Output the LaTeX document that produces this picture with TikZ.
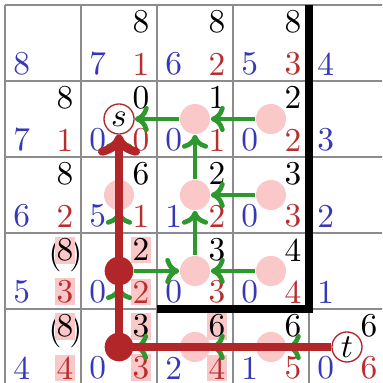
\documentclass[tikz,border=0pt]{standalone}
\usetikzlibrary{arrows.meta,positioning}
\definecolor{numblue}{RGB}{55,55,185}
\definecolor{numred}{RGB}{185,45,45}
\definecolor{pathred}{RGB}{178,38,42}
\definecolor{arcgreen}{RGB}{45,152,45}
\definecolor{hilite}{RGB}{250,200,200}
\tikzstyle{cell}=[black!45,line width=0.45pt,step=0.8cm]
\tikzstyle{cut}=[black,line width=2.2pt]
\tikzstyle{hnum}=[anchor=north east,inner xsep=0.5pt,inner ysep=0.6pt,xshift=-1.6pt,yshift=-0.9pt]
\tikzstyle{bnum}=[anchor=south west,inner xsep=0.5pt,inner ysep=0.6pt,xshift=1.8pt,yshift=0.9pt,text=numblue]
\tikzstyle{rnum}=[anchor=south east,inner xsep=0.5pt,inner ysep=0.6pt,xshift=-1.6pt,yshift=0.9pt,text=numred]
\tikzstyle{hl}=[fill=hilite]
\tikzstyle{active}=[circle,fill=hilite,minimum size=9pt,inner sep=0pt]
\tikzstyle{cutvert}=[circle,fill=pathred,minimum size=8.6pt,inner sep=0pt]
\tikzstyle{term}=[circle,draw=pathred,fill=white,line width=0.4pt,minimum size=9pt,inner sep=0pt]
\tikzstyle{arc}=[-{To[length=4.2pt,width=7.8pt]},arcgreen,line width=1.4pt]
\tikzstyle{aug}=[-{To[length=6.3pt,width=12.6pt]},pathred,line width=2.5pt]

\begin{document}
\begin{tikzpicture}[x=0.8cm,y=0.8cm]
\clip (-0.066,-4.974) rectangle (4.961,0.066);
% cells and cut
\draw[cell] (0,0) grid (5,-5);
\draw[cut] (4,0) -- (4,-4) -- (2,-4);

% heights (top right)
\foreach \c/\r/\v in {1/0/8,2/0/8,3/0/8,0/1/8,1/1/0,2/1/1,3/1/2,0/2/8,1/2/6,2/2/2,3/2/3,2/3/3,3/3/4,3/4/6,4/4/6}
  \node[hnum] (h\c\r) at (\c+1,-\r) {\v};
\foreach \c/\r/\v in {1/3/2,1/4/3,2/4/6}
  \node[hnum,hl] (h\c\r) at (\c+1,-\r) {\v};
\foreach \r in {3,4} {
  \node[hnum] (p0\r) at (1,-\r) {\llap{(\kern-1.5pt}8\rlap{\kern-1.2pt)}};
  \node[hnum,hl] (h0\r) at (1,-\r) {8};
}
% blue (bottom left)
\foreach \c/\r/\v in {0/0/8,1/0/7,2/0/6,3/0/5,4/0/4,0/1/7,1/1/0,2/1/0,3/1/0,4/1/3,0/2/6,1/2/5,2/2/1,3/2/0,4/2/2,0/3/5,1/3/0,2/3/0,3/3/0,4/3/1,0/4/4,1/4/0,2/4/2,3/4/1,4/4/0}
  \node[bnum] (b\c\r) at (\c,-\r-1) {\v};
% red (bottom right)
\foreach \c/\r/\v in {1/0/1,2/0/2,3/0/3,0/1/1,1/1/0,2/1/1,3/1/2,0/2/2,1/2/1,2/2/2,3/2/3,2/3/3,3/3/4,3/4/5,4/4/6}
  \node[rnum] (r\c\r) at (\c+1,-\r-1) {\v};
\foreach \c/\r/\v in {0/3/3,1/3/2,0/4/4,1/4/3,2/4/4}
  \node[rnum,hl] (r\c\r) at (\c+1,-\r-1) {\v};

% vertices
\node[term] (v11) at (1.5,-1.5) {$s$};
\node[active] (v21) at (2.5,-1.5) {};
\node[active] (v31) at (3.5,-1.5) {};
\node[active] (v12) at (1.5,-2.5) {};
\node[active] (v22) at (2.5,-2.5) {};
\node[active] (v32) at (3.5,-2.5) {};
\node[cutvert] (v13) at (1.5,-3.5) {};
\node[active] (v23) at (2.5,-3.5) {};
\node[active] (v33) at (3.5,-3.5) {};
\node[cutvert] (v14) at (1.5,-4.5) {};
\node[active] (v24) at (2.5,-4.5) {};
\node[active] (v34) at (3.5,-4.5) {};
\node[term] (v44) at (4.5,-4.5) {$t$};

% residual arcs
\draw[arc] (v31) -- (v21);
\draw[arc] (v21) -- (v11);
\draw[arc] (v22) -- (v21);
\draw[arc] (v32) -- (v22);
\draw[arc] (v23) -- (v22);
\draw[arc] (v33) -- (v23);
\draw[arc] (v13) -- (v23);
\draw[arc] (v12) -- (v11);
\draw[arc] (v13) -- (v12);
\draw[arc] (v14) -- (v13);
\draw[arc] (v24) -- (v14);
\draw[arc] (v34) -- (v24);
\draw[arc] (v44) -- (v34);

% augmenting path
\draw[aug] (v44) -- (v14.center) -- (v11);
\end{tikzpicture}
\end{document}
